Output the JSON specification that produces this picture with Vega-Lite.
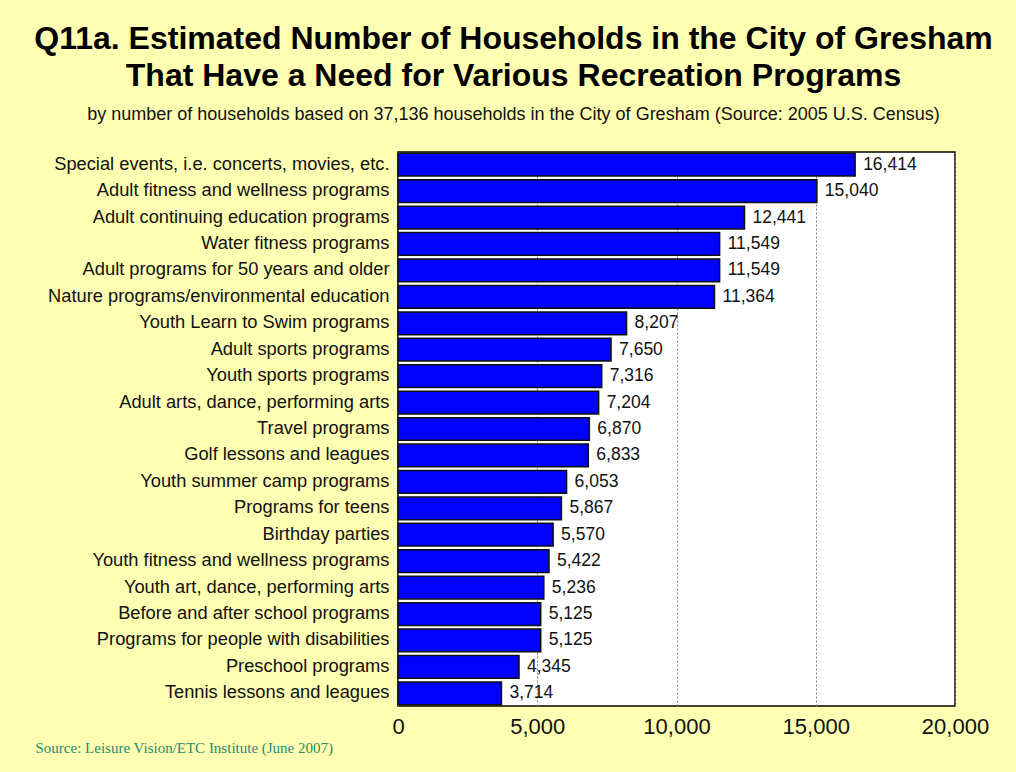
{
  "$schema": "https://vega.github.io/schema/vega-lite/v6.json",
  "width": 557,
  "height": 554,
  "autosize": "none",
  "padding": {"left": 398, "top": 152, "right": 61, "bottom": 66},
  "background": "#FFFFB3",
  "view": {"fill": "white", "stroke": "black", "strokeWidth": 1.5},
  "title": {
    "text": ["Q11a. Estimated Number of Households in the City of Gresham", "That Have a Need for Various Recreation Programs"],
    "subtitle": "by number of households based on 37,136 households in the City of Gresham (Source: 2005 U.S. Census)",
    "font": "Liberation Sans",
    "fontSize": 32,
    "fontWeight": "bold",
    "color": "black",
    "lineHeight": 37,
    "subtitleFont": "Liberation Sans",
    "subtitleFontSize": 18,
    "subtitleColor": "#111111",
    "subtitlePadding": 13,
    "anchor": "middle",
    "dx": -163,
    "offset": 27
  },
  "data": {
    "values": [
      {"program": "Special events, i.e. concerts, movies, etc.", "households": 16414},
      {"program": "Adult fitness and wellness programs", "households": 15040},
      {"program": "Adult continuing education programs", "households": 12441},
      {"program": "Water fitness programs", "households": 11549},
      {"program": "Adult programs for 50 years and older", "households": 11549},
      {"program": "Nature programs/environmental education", "households": 11364},
      {"program": "Youth Learn to Swim programs", "households": 8207},
      {"program": "Adult sports programs", "households": 7650},
      {"program": "Youth sports programs", "households": 7316},
      {"program": "Adult arts, dance, performing arts", "households": 7204},
      {"program": "Travel programs", "households": 6870},
      {"program": "Golf lessons and leagues", "households": 6833},
      {"program": "Youth summer camp programs", "households": 6053},
      {"program": "Programs for teens", "households": 5867},
      {"program": "Birthday parties", "households": 5570},
      {"program": "Youth fitness and wellness programs", "households": 5422},
      {"program": "Youth art, dance, performing arts", "households": 5236},
      {"program": "Before and after school programs", "households": 5125},
      {"program": "Programs for people with disabilities", "households": 5125},
      {"program": "Preschool programs", "households": 4345},
      {"program": "Tennis lessons and leagues", "households": 3714}
    ]
  },
  "encoding": {
    "y": {
      "field": "program",
      "type": "nominal",
      "sort": null,
      "scale": {"paddingInner": 0.14, "paddingOuter": 0.05},
      "axis": {
        "title": null,
        "labelFont": "Liberation Sans",
        "labelFontSize": 18.3,
        "labelColor": "#111111",
        "labelLimit": 400,
        "labelPadding": 9,
        "ticks": false,
        "domain": false,
        "grid": false
      }
    }
  },
  "layer": [
    {
      "mark": {"type": "bar", "color": "#0000FF", "stroke": "#111111", "strokeWidth": 1.5},
      "encoding": {
        "x": {
          "field": "households",
          "type": "quantitative",
          "scale": {"domain": [0, 20000], "nice": false},
          "axis": {
            "title": "Source:  Leisure Vision/ETC Institute (June 2007)",
            "titleFont": "Liberation Serif",
            "titleFontSize": 15,
            "titleFontWeight": "normal",
            "titleColor": "#2A8A68",
            "titleAnchor": "start",
            "titleAlign": "left",
            "titleBaseline": "alphabetic",
            "titleX": -363,
            "titleY": 46,
            "values": [0, 5000, 10000, 15000, 20000],
            "format": ",d",
            "labelFont": "Liberation Sans",
            "labelFontSize": 22,
            "labelColor": "#111111",
            "labelPadding": 10,
            "labelFlush": false,
            "ticks": false,
            "domain": false,
            "grid": true,
            "gridColor": "#808080",
            "gridDash": [2, 2],
            "gridWidth": 1
          }
        }
      }
    },
    {
      "mark": {"type": "text", "align": "left", "baseline": "middle", "dx": 8, "font": "Liberation Sans", "fontSize": 17.5, "color": "#111111"},
      "encoding": {
        "x": {"field": "households", "type": "quantitative"},
        "text": {"field": "households", "type": "quantitative", "format": ",d"}
      }
    }
  ]
}
